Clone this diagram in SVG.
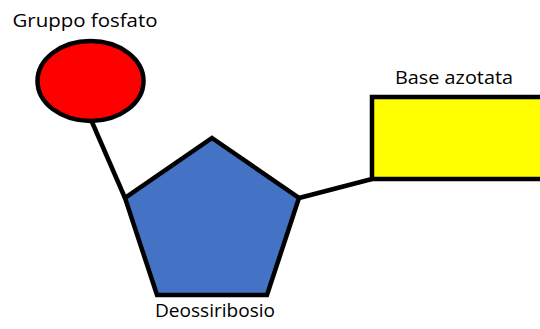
<svg xmlns="http://www.w3.org/2000/svg" width="540" height="329" viewBox="0 0 540 329">
  <style>
    .shape { stroke: #000; stroke-width: 4.5; stroke-linejoin: miter; }
    .link { stroke: #000; stroke-width: 4.5; fill: none; }
    .label { font-family: "Open Sans", "Noto Sans", sans-serif; font-size: 18px; fill: #000; }
  </style>
  <rect width="540" height="329" fill="#fff"/>
  <g id="connectors">
    <line class="link" x1="92" y1="122" x2="125" y2="198"/>
    <line class="link" x1="299" y1="198" x2="372" y2="179"/>
  </g>
  <g id="fosfato">
    <ellipse class="shape" cx="90.5" cy="81" rx="53" ry="40" fill="#ff0000"/>
    <text class="label" x="85" y="27" text-anchor="middle" textLength="145" lengthAdjust="spacingAndGlyphs">Gruppo fosfato</text>
  </g>
  <g id="deossiribosio">
    <polygon class="shape" points="212,138 299,198 267,295 157,295 125,198" fill="#4472c4"/>
    <text class="label" x="215" y="317" text-anchor="middle" textLength="120" lengthAdjust="spacingAndGlyphs">Deossiribosio</text>
  </g>
  <g id="base">
    <rect class="shape" x="372" y="97" width="172" height="82" fill="#ffff00"/>
    <text class="label" x="454" y="84" text-anchor="middle" textLength="118" lengthAdjust="spacingAndGlyphs">Base azotata</text>
  </g>
</svg>
